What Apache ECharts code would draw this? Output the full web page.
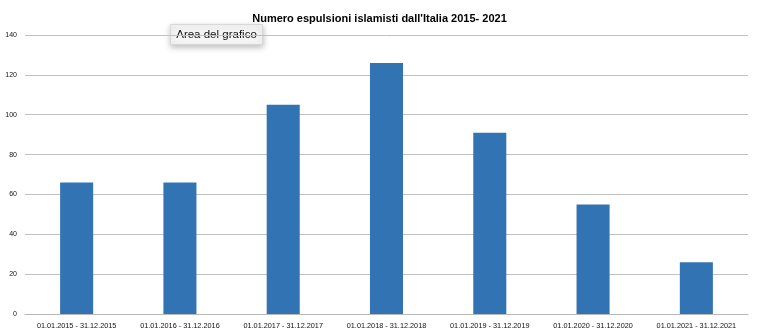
<!DOCTYPE html>
<html><head><meta charset="utf-8">
<script src="https://cdn.jsdelivr.net/npm/echarts@6/dist/echarts.min.js"></script>
<style>html,body{margin:0;padding:0;background:#fff}#c{width:759px;height:336px}</style>
</head><body><div id="c"></div>
<script>
var categories = ['01.01.2015 - 31.12.2015','01.01.2016 - 31.12.2016','01.01.2017 - 31.12.2017','01.01.2018 - 31.12.2018','01.01.2019 - 31.12.2019','01.01.2020 - 31.12.2020','01.01.2021 - 31.12.2021'];
var values = [66, 66, 105, 126, 91, 55, 26];
var yTicks = [0, 20, 40, 60, 80, 100, 120, 140];
var chart = echarts.init(document.getElementById('c'), null, {renderer:'canvas'});
chart.setOption({
  animation:false,
  backgroundColor:'#fff',
  title:{text:"Numero espulsioni islamisti dall'Italia 2015- 2021",left:'center',top:8,
    textStyle:{fontFamily:'Liberation Sans',fontSize:11,fontWeight:'bold',color:'#000'}},
  grid:{left:25,right:11,top:35,bottom:22,containLabel:false},
  xAxis:{type:'category',data:categories,
    axisLine:{lineStyle:{color:'#b8b8b8',width:1}},axisTick:{show:false},
    axisLabel:{fontFamily:'Liberation Sans',fontSize:7.3,color:'#111',margin:8,interval:0}},
  yAxis:{type:'value',min:yTicks[0],max:yTicks[yTicks.length-1],interval:20,
    axisLine:{show:false},axisTick:{show:false},
    splitLine:{lineStyle:{color:'#c0c0c0',width:1}},
    axisLabel:{fontFamily:'Liberation Sans',fontSize:7,color:'#111',margin:8}},
  series:[{type:'bar',data:values,barWidth:'32%',itemStyle:{color:'#3274b3'}}],
  graphic:[{type:'group',left:170,top:24,children:[
    {type:'rect',shape:{x:0,y:0,width:92,height:20},style:{fill:'#f6f6f6',stroke:'#d8d8d8',lineWidth:1,shadowBlur:6,shadowColor:'rgba(0,0,0,0.25)',shadowOffsetY:2}},
    {type:'text',x:46,y:10,style:{text:'Area del grafico',align:'center',verticalAlign:'middle',fontFamily:'Liberation Sans',fontSize:11.5,fill:'#111'}}
  ]}]
});
</script></body></html>
